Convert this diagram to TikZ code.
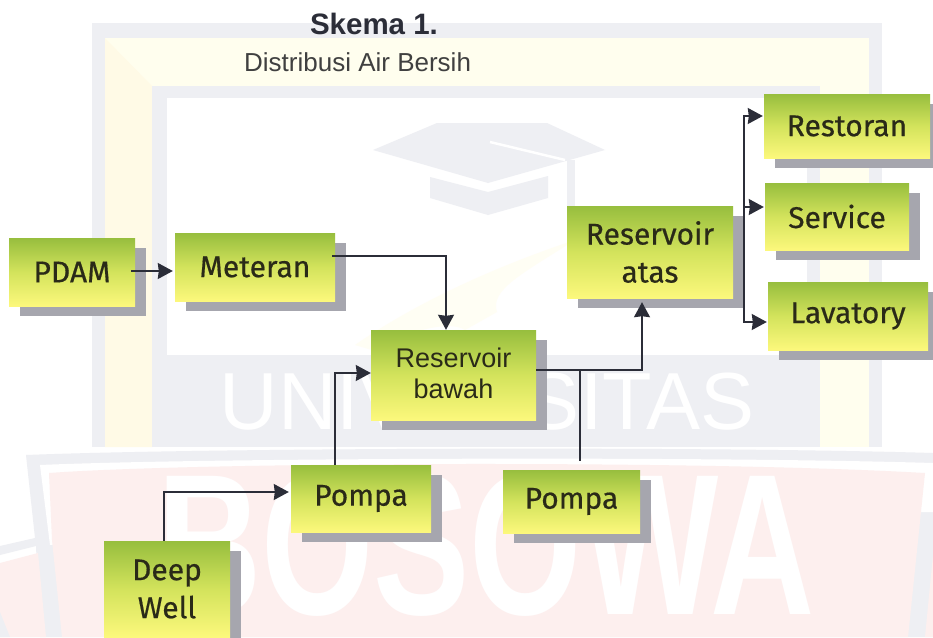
\documentclass[tikz,border=0pt]{standalone}
\usepackage{fontspec}
\usepackage{graphicx}
\setmainfont{Liberation Sans}
\newfontfamily\boxfont[FakeBold=0.5]{Fira Sans}
\usetikzlibrary{arrows.meta,shadows}
\definecolor{wmgrey}{HTML}{EEEFF3}
\definecolor{wmyellow}{HTML}{FFFEEE}
\definecolor{wmpeach}{HTML}{FFFAE6}
\definecolor{wmswoosh}{HTML}{FFFEF4}
\definecolor{wmpink}{HTML}{FDEFEE}
\definecolor{boxtop}{HTML}{97BE3E}
\definecolor{boxmid}{HTML}{D3E35C}
\definecolor{boxbot}{HTML}{FCF87C}
\definecolor{shadowgrey}{HTML}{A6A6AE}
\definecolor{inkdark}{HTML}{2B2D38}
\definecolor{boxink}{HTML}{2A2A18}
\tikzset{
  box/.style={rectangle,inner sep=0pt,align=center,text=boxink,
    top color=boxtop,bottom color=boxbot,middle color=boxmid,
    drop shadow={shadow xshift=11pt,shadow yshift=-10pt,fill=shadowgrey,opacity=1}},
  comic/.style={box,font=\boxfont\fontsize{30}{38}\selectfont},
  plainbox/.style={box,font=\fontsize{27}{31}\selectfont},
  link/.style={draw=inkdark,line width=1.6pt},
  arrowlink/.style={link,-{Stealth[length=15pt,width=16pt,inset=1pt]}},
  wmtext/.style={text=white,inner sep=0pt}
}
\begin{document}
\begin{tikzpicture}[x=1pt,y=-1pt]
\useasboundingbox (0,0) rectangle (933,637);
\clip (0,0) rectangle (933,637);
\fill[white] (0,0) rectangle (933,637);
% watermark frame
\fill[wmgrey] (92,23) rectangle (882,447);
\fill[wmyellow] (105,38) rectangle (869,447);
\fill[wmpeach] (105,38) -- (152,86) -- (152,447) -- (105,447) -- cycle;
\fill[wmgrey] (152,86) rectangle (820,447);
\fill[white] (167,98) rectangle (807,355);
% watermark cap
\fill[wmgrey] (373,150) -- (437,123) -- (547,123) -- (605,150) -- (488,183) -- cycle;
\fill[wmgrey] (430,177) -- (488,192) -- (548,176) -- (548,198) -- (488,215) -- (430,198) -- cycle;
\fill[wmgrey] (567,160) rectangle (575,206);
\draw[white,line width=2.5pt] (490,142) -- (565,160);
% watermark swoosh
\fill[wmswoosh] (355,345) .. controls (420,300) and (500,265) .. (575,240) .. controls (520,275) and (490,290) .. (497,312) -- (465,330) .. controls (450,320) and (410,330) .. (372,350) -- cycle;
% watermark lower shield
\fill[wmgrey] (26,455) .. controls (200,448) and (700,446) .. (933,453) -- (933,637) -- (40,637) -- (36,546) -- (0,555) -- (0,546) -- (35,538) -- cycle;
\fill[white] (40,465) .. controls (200,458) and (700,456) .. (933,463) -- (933,512) -- (925,512) -- (50,545) -- cycle;
\fill[wmpink] (49,473) .. controls (200,462) and (700,460) .. (925,473) -- (908,637) -- (62,637) -- (52,540) -- cycle;
\fill[wmpink] (0,563) -- (38,553) -- (46,637) -- (0,637) -- cycle;
\fill[wmgrey] (0,612) -- (10,637) -- (0,637) -- cycle;
\fill[wmpink] (933,555) -- (933,637) -- (925,637) -- cycle;
\node[wmtext,font=\fontsize{81}{81}\selectfont,anchor=center] (wmuni) at (487,402) {UNIVERSITAS};
\node[wmtext,anchor=center] (wmbos) at (486,545) {\resizebox{657pt}{140pt}{\bfseries BOSOWA}};
% titles
\node[font=\bfseries\fontsize{29.5}{30}\selectfont,text=inkdark,inner sep=0pt,anchor=base] (title) at (374,34) {Skema 1.};
\node[font=\fontsize{26}{26}\selectfont,text=black!75,inner sep=0pt,anchor=base west] (subtitle) at (244,71) {Distribusi Air Bersih};
% boxes
\node[comic,minimum width=126pt,minimum height=68pt] (pdam) at (72,272) {PDAM};
\node[comic,minimum width=160pt,minimum height=68pt] (meteran) at (255,267) {Meteran};
\node[plainbox,minimum width=165pt,minimum height=90pt] (bawah) at (453.5,375) {\raisebox{3pt}{Reservoir}\\\raisebox{3pt}{bawah}};
\node[comic,minimum width=166pt,minimum height=92pt] (atas) at (650,252) {\raisebox{-5pt}{Reservoir}\\\raisebox{-5pt}{atas}};
\node[comic,minimum width=166pt,minimum height=64pt] (restoran) at (847,126) {Restoran};
\node[comic,minimum width=144pt,minimum height=67pt] (service) at (837,216.5) {Service};
\node[comic,minimum width=160pt,minimum height=68pt] (lavatory) at (848,316) {\raisebox{-3pt}{Lavatory}};
\node[comic,minimum width=140pt,minimum height=67pt] (pompaa) at (361,498.5) {\raisebox{-2pt}{Pompa}};
\node[comic,minimum width=137pt,minimum height=63pt] (pompab) at (571.5,501.5) {\raisebox{-2pt}{Pompa}};
\node[comic,minimum width=126pt,minimum height=96pt] (deep) at (167,589) {Deep\\Well};
% connectors
\draw[arrowlink] ([xshift=-4pt,yshift=1pt]pdam.east) -- ([xshift=-2pt,yshift=-4pt]meteran.west);
\draw[arrowlink] ([xshift=-3pt,yshift=11pt]meteran.east) -| ([xshift=-7.5pt]bawah.north);
\draw[arrowlink] ([xshift=-26pt]pompaa.north) |- ([yshift=2pt]bawah.west);
\draw[arrowlink] ([xshift=-3pt]deep.north) |- ([xshift=-2pt,yshift=6.5pt]pompaa.west);
\draw[arrowlink] ([yshift=5pt]bawah.east) -| ([xshift=-8pt,yshift=-4pt]atas.south);
\coordinate (pumpjoin) at (580,370);
\draw[link] ([xshift=8.5pt,yshift=9pt]pompab.north) -- (pumpjoin);
\coordinate (bus) at (744,207);
\draw[arrowlink] (bus) |- ([xshift=-1pt,yshift=10pt]restoran.west);
\draw[arrowlink] (bus) -- ([xshift=-1pt,yshift=9.5pt]service.west);
\draw[arrowlink] (bus) |- ([xshift=-1pt,yshift=-6pt]lavatory.west);
\end{tikzpicture}
\end{document}
